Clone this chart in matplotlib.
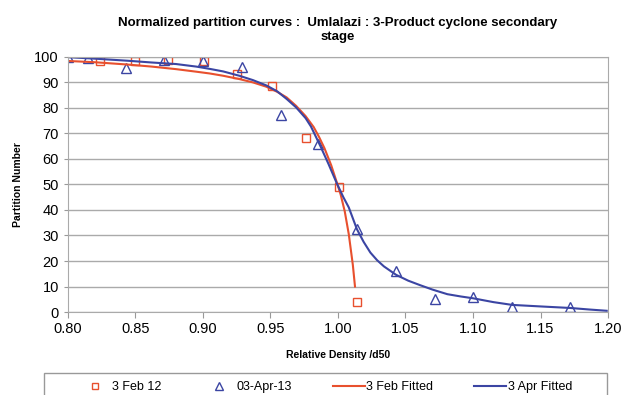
import matplotlib.pyplot as plt
from matplotlib.patches import Rectangle

plt.rcParams['font.family'] = ['Liberation Sans', 'DejaVu Sans']

# measured points
feb_x = [0.824, 0.850, 0.874, 0.901, 0.925, 0.951, 0.976, 1.001, 1.014]
feb_y = [98.5, 98.2, 98.6, 98.5, 93.3, 88.4, 68.2, 49.1, 4.0]
apr_x = [0.800, 0.815, 0.843, 0.871, 0.900, 0.929, 0.958, 0.985, 1.014,
         1.043, 1.072, 1.100, 1.129, 1.172]
apr_y = [100.0, 99.6, 95.5, 98.8, 98.4, 96.0, 77.4, 65.8, 32.5,
         16.2, 5.0, 6.0, 2.1, 2.1]

# fitted curves
feb_fit_x = [0.800, 0.820, 0.844, 0.862, 0.880, 0.895, 0.905, 0.915, 0.927,
             0.937, 0.947, 0.955, 0.962, 0.969, 0.976, 0.982, 0.986, 0.990,
             0.995, 0.999, 1.002, 1.005, 1.008, 1.011, 1.0126]
feb_fit_y = [98.4, 97.9, 97.0, 96.2, 95.2, 94.2, 93.5, 92.6, 91.3,
             90.0, 88.3, 86.3, 84.1, 80.8, 76.8, 72.5, 68.6, 64.2,
             57.5, 51.0, 46.0, 39.5, 30.5, 18.5, 10.0]
apr_fit_x = [0.800, 0.820, 0.844, 0.862, 0.880, 0.895, 0.905, 0.915, 0.927,
             0.937, 0.947, 0.955, 0.962, 0.969, 0.976, 0.980, 0.987, 0.993,
             0.999, 1.004, 1.008, 1.014, 1.019, 1.024, 1.029, 1.034, 1.043,
             1.052, 1.061, 1.070, 1.081, 1.091, 1.100, 1.115, 1.129, 1.150,
             1.172, 1.186, 1.199]
apr_fit_y = [99.9, 99.3, 98.5, 97.8, 97.2, 96.2, 95.3, 94.3, 92.6,
             90.9, 88.8, 86.5, 83.5, 80.2, 76.0, 72.7, 65.0, 58.0,
             50.6, 45.0, 41.0, 32.5, 27.5, 23.3, 20.3, 17.9, 14.6,
             12.3, 10.5, 8.8, 7.0, 6.1, 5.4, 3.9, 2.8, 2.2,
             1.6, 1.0, 0.5]

red = '#e8502e'
blue = '#3b45a3'

fig = plt.figure(figsize=(6.23, 3.95), dpi=100)
ax = fig.add_axes([0.109, 0.21, 0.867, 0.646])

ax.plot(feb_x, feb_y, 's', mfc='none', mec=red, ms=5.5, mew=1, label='3 Feb 12')
ax.plot(apr_x, apr_y, '^', mfc='none', mec=blue, ms=6.5, mew=1, label='03-Apr-13')
ax.plot(feb_fit_x, feb_fit_y, '-', color=red, lw=1.5, label='3 Feb Fitted')
ax.plot(apr_fit_x, apr_fit_y, '-', color=blue, lw=1.5, label='3 Apr Fitted')

ax.set_xlim(0.80, 1.20)
ax.set_ylim(0, 100)
ax.set_xticks([0.80 + 0.05 * i for i in range(9)])
ax.set_xticklabels(['%.2f' % (0.80 + 0.05 * i) for i in range(9)], fontsize=10.5)
ax.set_yticks(range(0, 101, 10))
ax.tick_params(axis='y', labelsize=10.5, length=3, color='#999999')
ax.tick_params(axis='x', length=4, color='#999999')
ax.yaxis.grid(True, color='#aaaaaa', lw=1)
ax.set_axisbelow(True)
for s in ax.spines.values():
    s.set_color('#aaaaaa')

ax.set_xlabel('Relative Density /d50', fontsize=7.5, fontweight='bold', labelpad=10)
ax.set_ylabel('Partition Number', fontsize=7.5, fontweight='bold', labelpad=8)
ax.set_title('Normalized partition curves :  Umlalazi : 3-Product cyclone secondary\nstage',
             fontsize=9.5, fontweight='bold', pad=12)

# legend box runs off the bottom edge like in the original
fig.patches.append(Rectangle((0.0706, -0.1), 0.9034, 0.1557, transform=fig.transFigure,
                             fill=False, edgecolor='#999999', lw=1))
fig.legend(loc='center', bbox_to_anchor=(0.5225, 0.02), ncol=4, fontsize=9,
           frameon=False, handlelength=2.56, handletextpad=0.1,
           columnspacing=3.3, markerscale=0.8, borderaxespad=0)

plt.savefig('out.png', dpi=100)
